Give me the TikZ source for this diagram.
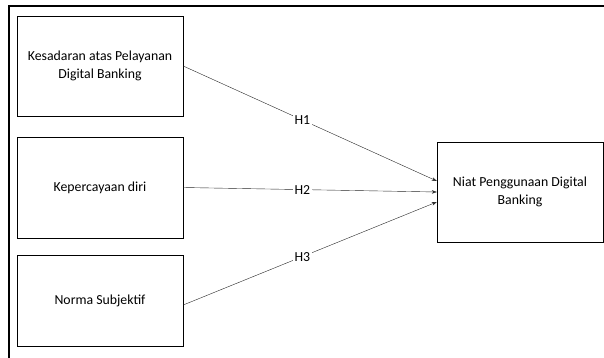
\documentclass[tikz,border=0pt]{standalone}
\usepackage{fontspec}
\setmainfont{Carlito}
\usetikzlibrary{arrows.meta}
\begin{document}
\begin{tikzpicture}[x=1pt,y=-1pt,
    varbox/.style={draw,thin,minimum width=166pt,align=center,inner sep=0pt,
        font=\fontsize{13.8}{18}\selectfont},
    path/.style={draw=black!85,thin,-{Stealth[length=5pt,width=3.5pt]}},
    hlabel/.style={fill=white,inner sep=2pt,font=\fontsize{13.8}{18}\selectfont}]
    \useasboundingbox (0,0) rectangle (604,358);
    % outer frame
    \draw[line width=2pt] (9,358) -- (9,6) -- (604,6);
    % variables
    \node[varbox,minimum height=100pt] (kesadaran) at (100,66) {Kesadaran atas Pelayanan\\Digital Banking};
    \node[varbox,minimum height=101pt] (percaya) at (100,187.5) {Kepercayaan diri};
    \node[varbox,minimum height=91pt] (norma) at (100,300.5) {\raisebox{-4pt}{Norma Subjektif}};
    \node[varbox,minimum height=100pt] (niat) at (520,192) {Niat Penggunaan Digital\\Banking};
    % hypotheses
    \draw[path] (kesadaran.east) -- node[hlabel,pos=0.47] {H1} ([yshift=11pt]niat.west);
    \draw[path] (percaya.east) -- node[hlabel,pos=0.47] {H2} ([yshift=0pt]niat.west);
    \draw[path] ([yshift=-4.5pt]norma.east) -- node[hlabel,pos=0.47] {H3} ([yshift=-10pt]niat.west);
\end{tikzpicture}
\end{document}
